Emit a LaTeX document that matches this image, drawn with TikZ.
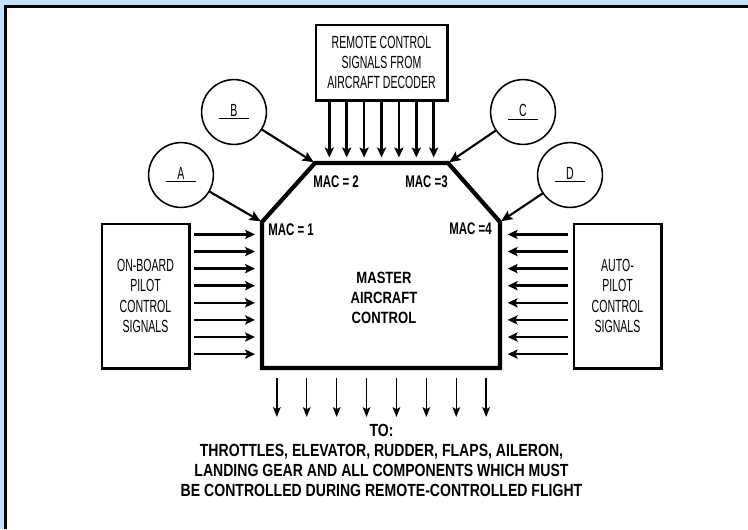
\documentclass[tikz,border=0pt]{standalone}
\usepackage{fontspec}
\setmainfont{Liberation Sans}
\newfontfamily\thinfont[FakeStretch=0.6]{Liberation Sans}
\newfontfamily\heavyfont[FakeStretch=0.8]{Liberation Sans}
\newfontfamily\macfont[FakeStretch=0.68]{Liberation Sans}
\usepackage{tikz}
\usetikzlibrary{arrows.meta,positioning,calc}
\definecolor{bandblue}{RGB}{190,226,255}

\begin{document}
\begin{tikzpicture}[x=0.025cm, y=-0.025cm,
  sigbox/.style={rectangle, draw, line width=0.8pt, inner sep=0pt, align=center,
                 font=\thinfont\fontsize{12.5}{14.5}\selectfont},
  shadowline/.style={line width=2pt},
  letter/.style={circle, draw, line width=1.1pt, minimum size=1.62cm, inner sep=0pt,
                 font=\thinfont\fontsize{12.5}{14}\selectfont},
  maclabel/.style={inner sep=0pt, font=\macfont\bfseries\fontsize{12}{14}\selectfont},
  macline/.style={line width=3pt},
  sigarrow/.style={-{Stealth[length=7pt, width=6.5pt, inset=1.5pt]}, line width=1.8pt},
  ptrarrow/.style={-{Stealth[length=8pt, width=7pt, inset=1.5pt]}, line width=1.5pt},
  outarrow/.style={-{Stealth[length=7pt, width=5.5pt, inset=1.5pt]}, line width=1pt},
  note/.style={inner sep=0pt, align=center, font=\heavyfont\bfseries\fontsize{12.5}{14.2}\selectfont}
]
  \useasboundingbox (0,0) rectangle (748,529);
  % frame
  \fill[bandblue] (0,0) rectangle (748,529);
  \fill[white] (5.5,6.5) rectangle (748,529);
  \draw[line width=2.2pt] (5.5,529) -- (5.5,6.5) -- (748,6.5);

  % master aircraft control
  \coordinate (mac1) at (262,222);
  \coordinate (mac2) at (315,163);
  \coordinate (mac3) at (448,163);
  \coordinate (mac4) at (500,222);
  \coordinate (lowright) at (500,368);
  \coordinate (lowleft) at (262,368);
  \draw[macline] (mac1) -- (mac2) -- (mac3) -- (mac4) -- (lowright) -- (lowleft) -- cycle;
  \node[note, font=\heavyfont\bfseries\fontsize{11.6}{14.2}\selectfont] (master) at (384,298)
    {MASTER\\AIRCRAFT\\CONTROL};

  \node[maclabel, anchor=west] (lab1) at (268,230) {MAC = 1};
  \node[maclabel, anchor=west] (lab2) at (313,182) {MAC = 2};
  \node[maclabel, anchor=east] (lab3) at (448,182) {MAC =3};
  \node[maclabel, anchor=east] (lab4) at (492,229) {MAC =4};

  % signal sources
  \node[sigbox, minimum width=3.275cm, minimum height=1.875cm] (remote) at (381.5,62.5)
    {REMOTE CONTROL\\SIGNALS FROM\\AIRCRAFT DECODER};
  \node[sigbox, minimum width=2.175cm, minimum height=3.6cm] (onboard) at (145.5,296)
    {ON-BOARD\\PILOT\\CONTROL\\SIGNALS};
  \node[sigbox, minimum width=2.175cm, minimum height=3.6cm] (autopilot) at (617.5,296)
    {AUTO-\\PILOT\\CONTROL\\SIGNALS};
  \foreach \b in {remote,onboard,autopilot}
    \draw[shadowline] (\b.north east) -- (\b.south east) -- (\b.south west);

  \node[letter] (A) at (181,175) {\underline{\makebox[21pt]{A}}};
  \node[letter] (B) at (234,112) {\underline{\makebox[21pt]{B}}};
  \node[letter] (C) at (523,112) {\underline{\makebox[21pt]{C}}};
  \node[letter] (D) at (570,175) {\underline{\makebox[21pt]{D}}};

  \draw[ptrarrow, shorten >=1pt] (A) -- (mac1);
  \draw[ptrarrow, shorten >=1pt] (B) -- (mac2);
  \draw[ptrarrow, shorten >=1pt] (C) -- (mac3);
  \draw[ptrarrow, shorten >=1pt] (D) -- (mac4);

  % signal lines
  \foreach \i in {0,...,6} {
    \path (remote.south) ++({(\i-3)*17.4},0) coordinate (s);
    \draw[sigarrow, shorten >=4pt] (s) -- (s |- mac2);
  }
  \foreach \i in {0,...,7} {
    \path (onboard.north east) ++(0,{11+\i*17.1}) coordinate (s);
    \draw[sigarrow, shorten <=3.5pt, shorten >=5pt] (s) -- (s -| mac1);
    \path (autopilot.north west) ++(0,{11+\i*17.1}) coordinate (s);
    \draw[sigarrow, shorten <=4pt, shorten >=5.5pt] (s) -- (s -| mac4);
  }

  % outputs
  \node[note, anchor=north] (todest) at (381.5,424)
    {TO:\\THROTTLES, ELEVATOR, RUDDER, FLAPS, AILERON,\\LANDING GEAR AND ALL COMPONENTS WHICH MUST\\BE CONTROLLED DURING REMOTE-CONTROLLED FLIGHT};
  \foreach \i in {0,...,7} {
    \path (todest.north) ++({(\i-3.5)*29.9},0) coordinate (t);
    \draw[outarrow, shorten <=7pt, shorten >=5pt] (t |- lowleft) -- (t);
  }
\end{tikzpicture}
\end{document}
